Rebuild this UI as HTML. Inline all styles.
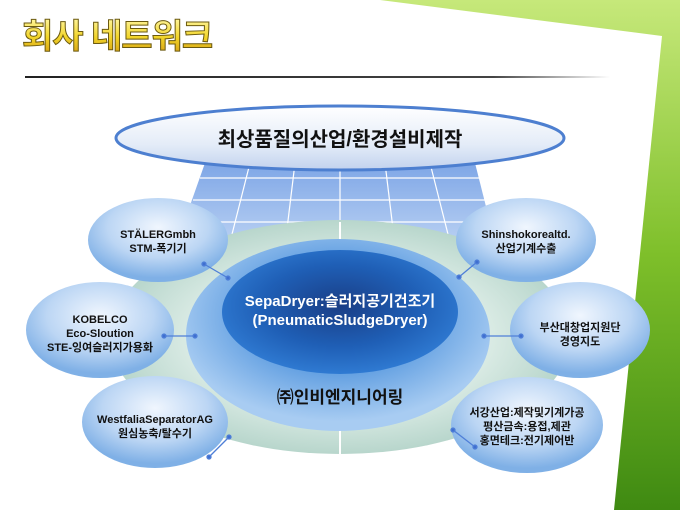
<!DOCTYPE html>
<html><head><meta charset="utf-8"><style>
html,body{margin:0;padding:0;width:680px;height:510px;overflow:hidden}
svg{display:block}
text{font-family:"Liberation Sans","Noto Sans CJK KR","NanumGothic",sans-serif}
</style></head><body>
<svg width="680" height="510" viewBox="0 0 680 510" xmlns="http://www.w3.org/2000/svg">
<defs>
<linearGradient id="green" x1="0" y1="0" x2="0" y2="1">
<stop offset="0" stop-color="#c6e87a"/><stop offset="0.5" stop-color="#7ebf2a"/><stop offset="1" stop-color="#3f8a12"/></linearGradient>
<linearGradient id="ttl" x1="0" y1="0" x2="0" y2="1">
<stop offset="0" stop-color="#fff6a0"/><stop offset="0.5" stop-color="#f2d52a"/><stop offset="1" stop-color="#d49a10"/></linearGradient>
<linearGradient id="rule" x1="0" x2="1"><stop offset="0" stop-color="#222"/><stop offset="0.8" stop-color="#444"/><stop offset="1" stop-color="#fff"/></linearGradient>
<linearGradient id="topell" x1="0" y1="0" x2="0" y2="1">
<stop offset="0" stop-color="#ffffff"/><stop offset="0.6" stop-color="#e4ecf8"/><stop offset="1" stop-color="#c2d2ee"/></linearGradient>
<linearGradient id="grid" x1="0" y1="0" x2="0" y2="1">
<stop offset="0" stop-color="#7ea6e6"/><stop offset="1" stop-color="#c6daf6"/></linearGradient>
<radialGradient id="pale" cx="0.5" cy="0.5" r="0.5">
<stop offset="0.6" stop-color="#dfeee8"/><stop offset="1" stop-color="#b8d6cc"/></radialGradient>
<radialGradient id="blue" cx="0.5" cy="0.4" r="0.55">
<stop offset="0.5" stop-color="#5d9ce0"/><stop offset="1" stop-color="#a8ccf2"/></radialGradient>
<radialGradient id="dark" cx="0.5" cy="0.45" r="0.55">
<stop offset="0" stop-color="#1a3e86"/><stop offset="0.6" stop-color="#1f5fb6"/><stop offset="1" stop-color="#2f7ad2"/></radialGradient>
<radialGradient id="sat" cx="0.5" cy="0.35" r="0.6">
<stop offset="0" stop-color="#f0f6fe"/><stop offset="0.6" stop-color="#bcd6f4"/><stop offset="1" stop-color="#7fb0e6"/></radialGradient>
</defs>
<rect width="680" height="510" fill="url(#green)"/>
<polygon points="0,0 380,0 662,36 614,510 0,510" fill="#fff"/>
<text x="22" y="48" font-size="34" font-weight="bold" fill="url(#ttl)" stroke="#6b5a10" stroke-width="1" letter-spacing="-1">회사 네트워크</text>
<rect x="25" y="76" width="585" height="2" fill="url(#rule)"/>
<!-- grid -->
<polygon points="205,163 475,163 500,262 170,262" fill="url(#grid)"/>
<g stroke="#fff" stroke-width="1.2" fill="none">
<line x1="200" y1="178" x2="480" y2="178"/><line x1="193" y1="200" x2="487" y2="200"/><line x1="185" y1="222" x2="493" y2="222"/><line x1="177" y1="244" x2="497" y2="244"/>
<line x1="250" y1="163" x2="225" y2="262"/><line x1="295" y1="163" x2="283" y2="262"/><line x1="340" y1="163" x2="340" y2="262"/><line x1="385" y1="163" x2="397" y2="262"/><line x1="430" y1="163" x2="455" y2="262"/>
</g>
<ellipse cx="340" cy="138" rx="224" ry="32" fill="url(#topell)" stroke="#4d7fd0" stroke-width="3"/>
<text x="340" y="146" font-size="20" font-weight="bold" fill="#111" text-anchor="middle">최상품질의산업/환경설비제작</text>
<ellipse cx="340" cy="337" rx="230" ry="117" fill="url(#pale)"/>
<line x1="340" y1="222" x2="340" y2="454" stroke="#fff" stroke-width="2"/>
<ellipse cx="338" cy="335" rx="152" ry="96" fill="url(#blue)"/>
<ellipse cx="340" cy="312" rx="118" ry="62" fill="url(#dark)"/>
<text x="340" y="306" font-size="15" font-weight="bold" fill="#fff" text-anchor="middle">SepaDryer:슬러지공기건조기</text>
<text x="340" y="325" font-size="15" font-weight="bold" fill="#fff" text-anchor="middle">(PneumaticSludgeDryer)</text>
<text x="340" y="403" font-size="17" font-weight="bold" fill="#111" text-anchor="middle">㈜인비엔지니어링</text>
<g fill="url(#sat)">
<ellipse cx="158" cy="240" rx="70" ry="42"/><ellipse cx="526" cy="240" rx="70" ry="42"/>
<ellipse cx="100" cy="330" rx="74" ry="48"/><ellipse cx="580" cy="330" rx="70" ry="48"/>
<ellipse cx="155" cy="422" rx="73" ry="46"/><ellipse cx="527" cy="425" rx="76" ry="48"/>
</g>
<g stroke="#4f7fd8" stroke-width="1.3" fill="#3f6fd0">
<line x1="204" y1="264" x2="228" y2="278"/><circle cx="204" cy="264" r="2"/><circle cx="228" cy="278" r="2"/>
<line x1="477" y1="262" x2="459" y2="277"/><circle cx="477" cy="262" r="2"/><circle cx="459" cy="277" r="2"/>
<line x1="164" y1="336" x2="195" y2="336"/><circle cx="164" cy="336" r="2"/><circle cx="195" cy="336" r="2"/>
<line x1="484" y1="336" x2="521" y2="336"/><circle cx="484" cy="336" r="2"/><circle cx="521" cy="336" r="2"/>
<line x1="209" y1="457" x2="229" y2="437"/><circle cx="209" cy="457" r="2"/><circle cx="229" cy="437" r="2"/>
<line x1="453" y1="430" x2="475" y2="447"/><circle cx="453" cy="430" r="2"/><circle cx="475" cy="447" r="2"/>
</g>
<g font-size="11" font-weight="bold" fill="#111" text-anchor="middle">
<text x="158" y="238">STÄLERGmbh</text><text x="158" y="252">STM-폭기기</text>
<text x="526" y="238">Shinshokorealtd.</text><text x="526" y="252">산업기계수출</text>
<text x="100" y="323">KOBELCO</text><text x="100" y="337">Eco-Sloution</text><text x="100" y="351">STE-잉여슬러지가용화</text>
<text x="580" y="331">부산대창업지원단</text><text x="580" y="345">경영지도</text>
<text x="155" y="423">WestfaliaSeparatorAG</text><text x="155" y="437">원심농축/탈수기</text>
<text x="527" y="416">서강산업:제작및기계가공</text><text x="527" y="430">평산금속:용접,제관</text><text x="527" y="444">홍면테크:전기제어반</text>
</g>
</svg>
</body></html>
